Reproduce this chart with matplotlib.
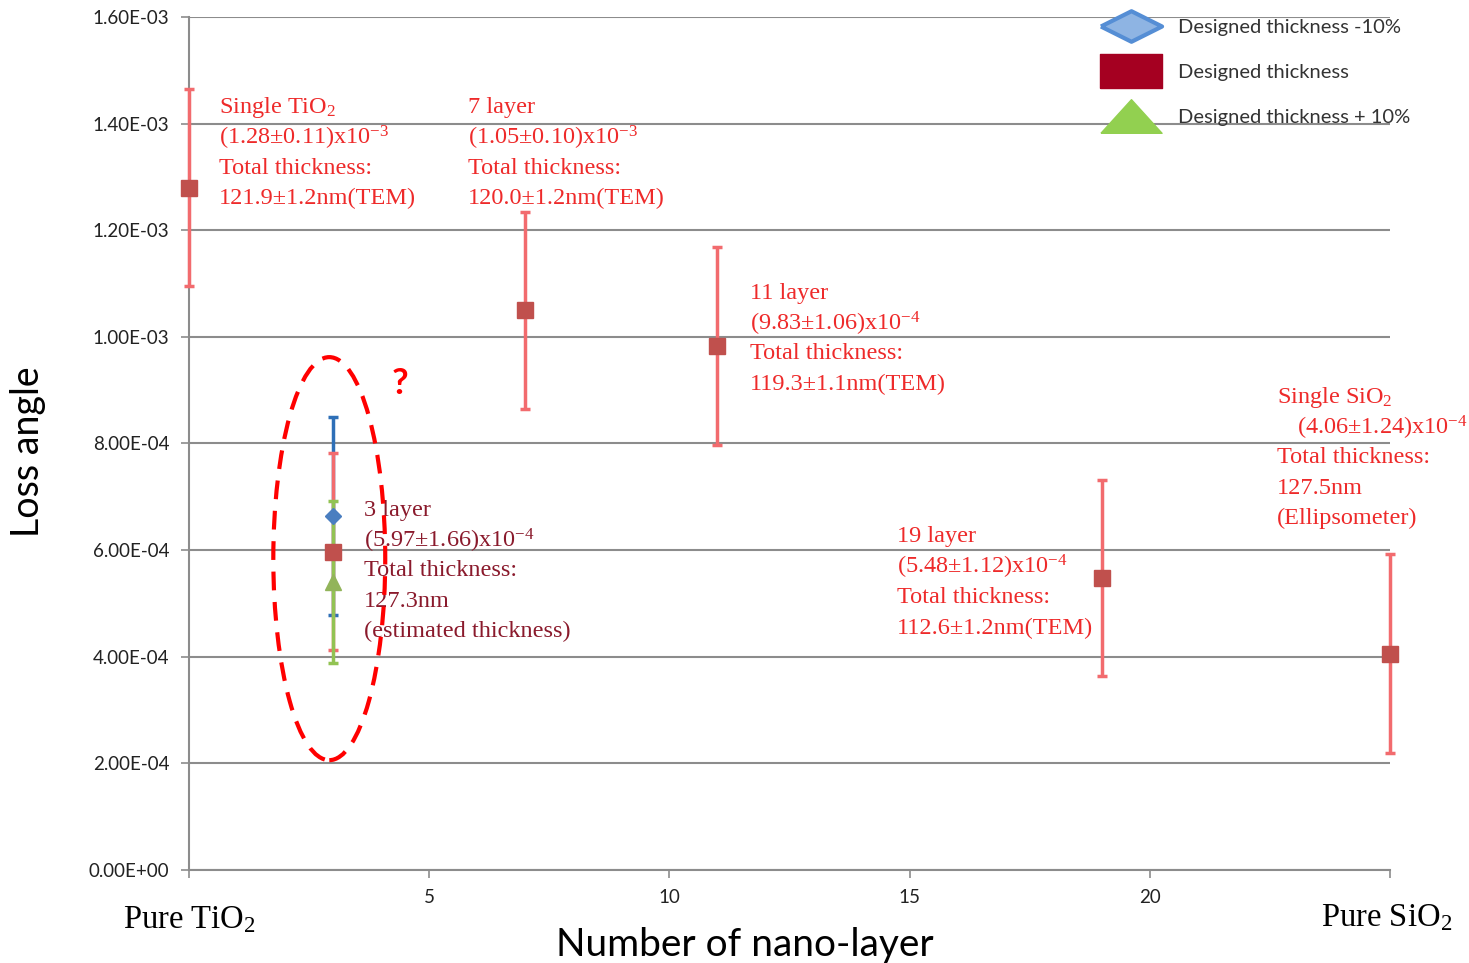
import matplotlib
matplotlib.use('Agg')
import matplotlib.pyplot as plt
from matplotlib.lines import Line2D
from matplotlib.patches import Ellipse
from matplotlib.path import Path
from matplotlib.ticker import FuncFormatter

# loss angle vs number of nano-layers
layers = [0, 3, 7, 11, 19, 25]
loss = [1.28e-3, 5.97e-4, 1.05e-3, 9.83e-4, 5.48e-4, 4.06e-4]
loss_err = [1.85e-4, 1.85e-4, 1.85e-4, 1.86e-4, 1.84e-4, 1.86e-4]

# 3 layer sample with designed thickness -10% / +10%
thin_x = [3]
thin_loss = [6.64e-4]
thin_err = [1.85e-4]
thick_x = [3]
thick_loss = [5.41e-4]
thick_err = [1.52e-4]

xticks = [0, 5, 10, 15, 20, 25]
xticklabels = ['', '5', '10', '15', '20', '']
yticks = [0, 2e-4, 4e-4, 6e-4, 8e-4, 1.0e-3, 1.2e-3, 1.4e-3, 1.6e-3]

legend_labels = ['Designed thickness -10%', 'Designed thickness', 'Designed thickness + 10%']

sans = 'Lato'
serif = 'Liberation Serif'
plt.rcParams['mathtext.fontset'] = 'custom'
plt.rcParams['mathtext.rm'] = serif
plt.rcParams['mathtext.it'] = serif + ':italic'
red_text = '#EE2A2A'
dark_text = '#8A1A2C'

fig = plt.figure(figsize=(14.69, 9.63), dpi=100)
ax = fig.add_axes([189/1469, 93/963, 1201/1469, 853/963])

ax.set_xlim(0, 25)
ax.set_ylim(0, 1.6e-3)
ax.set_yticks(yticks)
ax.yaxis.set_major_formatter(FuncFormatter(lambda v, p: ('%.2E' % v)))
ax.set_xticks(xticks)
ax.set_xticklabels(xticklabels)
ax.tick_params(axis='both', colors='#8C8C8C', labelcolor='#222222', labelsize=13.5, length=6, width=1.2)
for lab in ax.get_xticklabels() + ax.get_yticklabels():
    lab.set_family(sans)
ax.tick_params(axis='x', pad=8)
ax.tick_params(axis='y', pad=8)

for side in ['top', 'right']:
    ax.spines[side].set_visible(False)
for side in ['left', 'bottom']:
    ax.spines[side].set_color('#8C8C8C')
    ax.spines[side].set_linewidth(1.5)

ax.yaxis.grid(True, color='#8C8C8C', lw=1.5)
ax.set_axisbelow(True)

# error bars: -10% lowest, then designed, then +10% on top
ax.errorbar(thin_x, thin_loss, yerr=thin_err, fmt='none', ecolor='#2E6FB7',
            elinewidth=2.5, capsize=3.5, capthick=2.5, zorder=3)
ax.errorbar(layers, loss, yerr=loss_err, fmt='none', ecolor='#F26B6E',
            elinewidth=2.5, capsize=3.5, capthick=2.5, zorder=4, clip_on=False)
ax.errorbar(thick_x, thick_loss, yerr=thick_err, fmt='none', ecolor='#92C353',
            elinewidth=2.5, capsize=3.5, capthick=2.5, zorder=5)

ax.plot(thin_x, thin_loss, 'D', color='#4A7EC0', ms=8, zorder=6)
ax.plot(thick_x, thick_loss, '^', color='#92B45A', ms=11, zorder=6)
ax.plot(layers, loss, 's', color='#C0504D', ms=11, zorder=7, clip_on=False)

# annotations
def block(x, y, lines, color, xs=None):
    for i, line in enumerate(lines):
        dx = 0 if xs is None else xs[i]
        ax.annotate(line, xy=(x, y), xytext=(dx, -i * 21.9), textcoords='offset points',
                    ha='left', va='center', fontsize=17.5, family=serif, color=color, zorder=8)

block(0.62, 1.43e-3, ['Single TiO$_2$', '(1.28\u00b10.11)x10$^{-3}$',
                      'Total thickness:', '121.9\u00b11.2nm(TEM)'], red_text)
block(5.81, 1.43e-3, ['7 layer', '(1.05\u00b10.10)x10$^{-3}$',
                      'Total thickness:', '120.0\u00b11.2nm(TEM)'], red_text)
block(11.67, 1.082e-3, ['11 layer', '(9.83\u00b11.06)x10$^{-4}$',
                        'Total thickness:', '119.3\u00b11.1nm(TEM)'], red_text)
block(3.65, 0.675e-3, ['3 layer', '(5.97\u00b11.66)x10$^{-4}$', 'Total thickness:',
                       '127.3nm', '(estimated thickness)'], dark_text)
block(14.73, 0.625e-3, ['19 layer', '(5.48\u00b11.12)x10$^{-4}$',
                        'Total thickness:', '112.6\u00b11.2nm(TEM)'], red_text)
block(22.65, 0.887e-3, ['Single SiO$_2$', '(4.06\u00b11.24)x10$^{-4}$', 'Total thickness:',
                        '127.5nm', '(Ellipsometer)'], red_text, xs=[0, 14, 0, 0, 0])

ell = Ellipse((2.92, 0.584e-3), width=2.33, height=0.756e-3, fill=False,
              ec='#FF0000', lw=3, ls=(0, (4.5, 2.8)), zorder=9)
ax.add_patch(ell)
ax.text(4.4, 0.913e-3, '?', color='#FF0000', fontsize=26, fontweight='bold',
        family=sans, ha='center', va='center')

# legend with wide markers
diamond = Path([(-1, 0), (0, 0.5), (1, 0), (0, -0.5), (-1, 0)])
rect = Path([(-1, -0.55), (1, -0.55), (1, 0.55), (-1, 0.55), (-1, -0.55)])
tri = Path([(-1, -0.55), (1, -0.55), (0, 0.55), (-1, -0.55)])
handles = [
    Line2D([], [], ls='none', marker=diamond, ms=44, mfc='#8EB4E3', mec='#558ED5', mew=3),
    Line2D([], [], ls='none', marker=rect, ms=44, mfc='#A50021', mec='#A50021', mew=1),
    Line2D([], [], ls='none', marker=tri, ms=44, mfc='#92D050', mec='#92D050', mew=1),
]
leg = ax.legend(handles, legend_labels, loc='upper left', frameon=False,
                bbox_to_anchor=(1087/1469, 1 - 5/963), bbox_transform=fig.transFigure,
                prop={'family': sans, 'size': 14.5}, handlelength=3.0, handletextpad=0.8,
                labelspacing=1.38, borderpad=0.2)
for t in leg.get_texts():
    t.set_color('#333333')

fig.text(28/1469, 1 - 452/963, 'Loss angle', rotation=90, ha='center', va='center',
         fontsize=27, family=sans, color='black')
fig.text(745/1469, 1 - 945/963, 'Number of nano-layer', ha='center', va='center',
         fontsize=28, family=sans, color='black')
fig.text(189/1469, 1 - 920/963, 'Pure TiO$_2$', ha='center', va='center',
         fontsize=23.5, family=serif, color='black')
fig.text(1387/1469, 1 - 918/963, 'Pure SiO$_2$', ha='center', va='center',
         fontsize=23.5, family=serif, color='black')

fig.savefig('out.png', dpi=100)
